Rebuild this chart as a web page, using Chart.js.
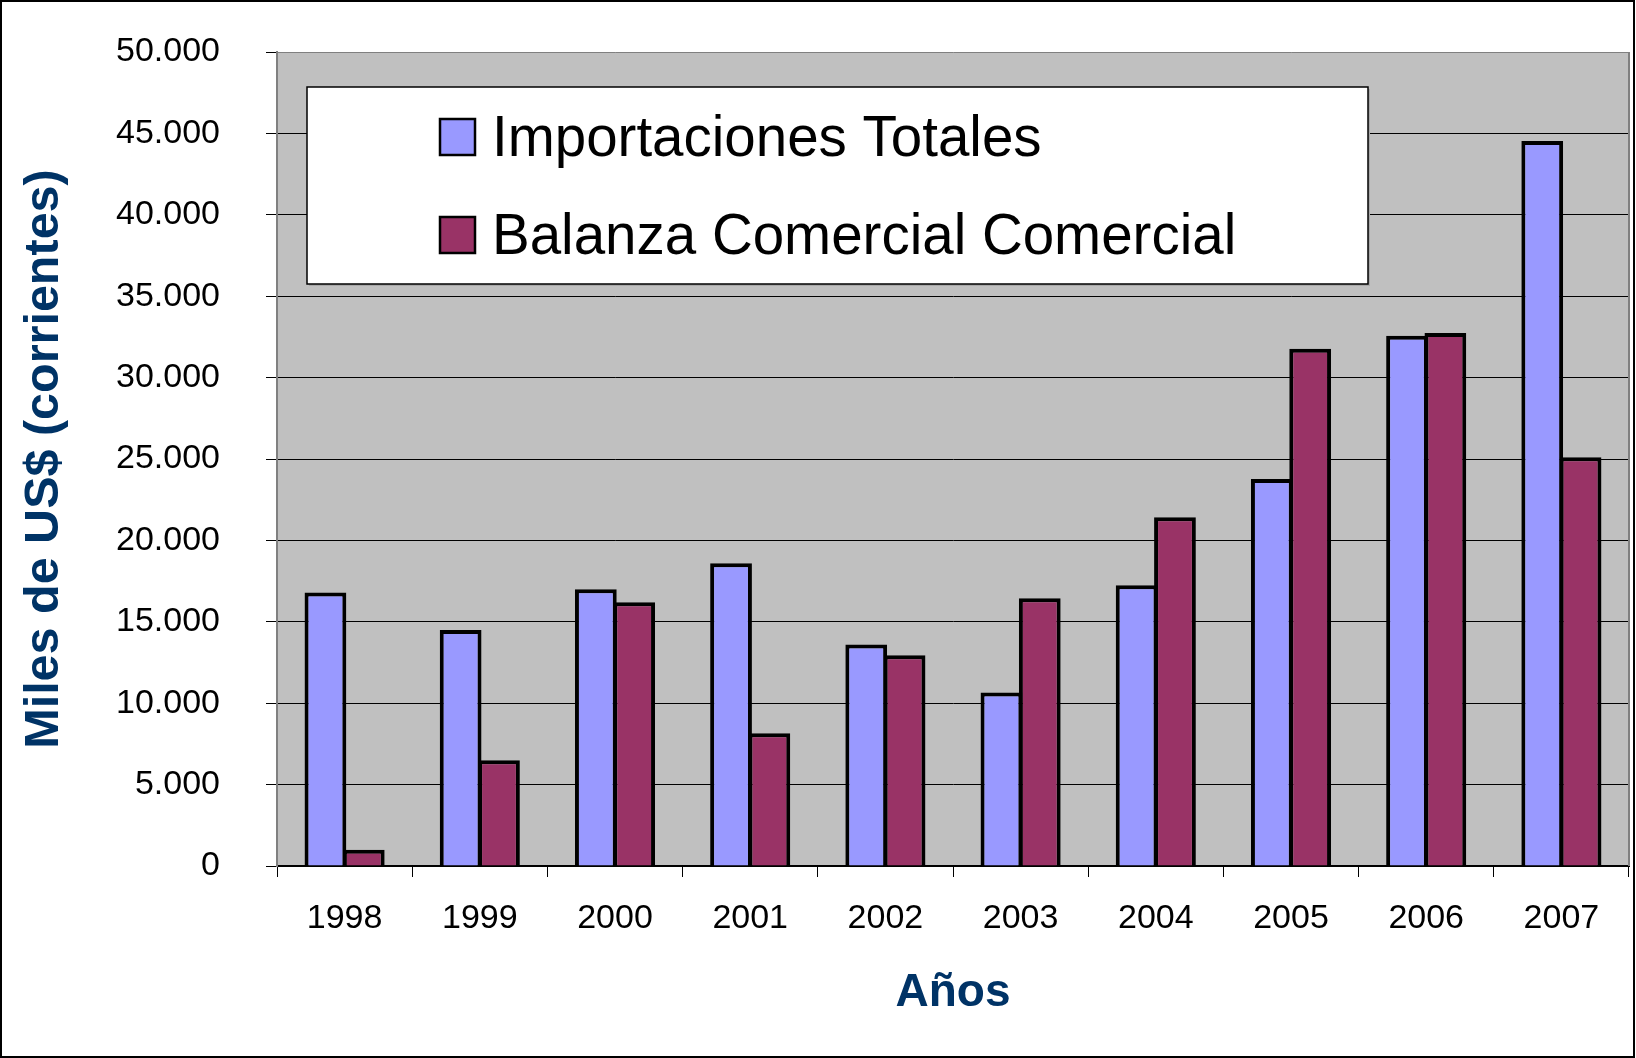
<!DOCTYPE html>
<html>
<head>
<meta charset="utf-8">
<script src="https://cdn.jsdelivr.net/npm/chart.js@4.4.1/dist/chart.umd.min.js"></script>
<style>
  html, body { margin: 0; padding: 0; background: #fff; }
  #wrap { width: 1636px; height: 1058px; }
</style>
</head>
<body>
<div id="wrap"><canvas id="chart" width="1636" height="1058"></canvas></div>
<script>
const years = ['1998', '1999', '2000', '2001', '2002', '2003', '2004', '2005', '2006', '2007'];
const importaciones = [16800, 14500, 17000, 18600, 13600, 10650, 17250, 23770, 32570, 44540];
const balanza = [1000, 6500, 16200, 8150, 12950, 16450, 21420, 31770, 32740, 25110];
const seriesNames = ['Importaciones Totales', 'Balanza Comercial Comercial'];
const seriesColors = ['#9999FF', '#993366'];

const FONT = "'Liberation Sans', Arial, sans-serif";
const NAVY = '#003366';

function fmt(v) {
    return String(v).replace(/\B(?=(\d{3})+(?!\d))/g, '.');
}

// grey plot area, right border and page frame
const plotBg = {
    id: 'plotBg',
    beforeDraw(chart) {
        const { ctx, chartArea: a } = chart;
        ctx.save();
        ctx.fillStyle = '#C0C0C0';
        ctx.fillRect(a.left, a.top, a.right - a.left, a.bottom - a.top);
        ctx.restore();
    },
    afterDraw(chart) {
        const { ctx, chartArea: a } = chart;
        ctx.save();
        ctx.strokeStyle = '#808080';
        ctx.lineWidth = 2;
        ctx.beginPath();
        ctx.moveTo(a.right, a.top);
        ctx.lineTo(a.right, a.bottom);
        ctx.stroke();
        ctx.strokeStyle = '#000';
        ctx.lineWidth = 2;
        ctx.strokeRect(1, 1, chart.width - 3, chart.height - 2);
        ctx.restore();
    }
};

// boxed legend inside the plot
const boxLegend = {
    id: 'boxLegend',
    afterDatasetsDraw(chart) {
        const ctx = chart.ctx;
        const x = 307, y = 87, w = 1061, h = 197;
        ctx.save();
        ctx.fillStyle = '#A8A8A8';
        ctx.fillRect(x + 2, y + 2, w, h);
        ctx.fillStyle = '#fff';
        ctx.fillRect(x, y, w, h);
        ctx.strokeStyle = '#000';
        ctx.lineWidth = 1.5;
        ctx.strokeRect(x, y, w, h);
        ctx.font = '56.5px ' + FONT;
        ctx.textBaseline = 'alphabetic';
        const baselines = [156, 254];
        chart.data.datasets.forEach((ds, i) => {
            const b = baselines[i];
            ctx.fillStyle = ds.backgroundColor;
            ctx.fillRect(440, b - 37, 35, 36);
            ctx.strokeStyle = '#000';
            ctx.lineWidth = 2.5;
            ctx.strokeRect(440, b - 37, 35, 36);
            ctx.fillStyle = '#000';
            ctx.fillText(ds.label, 492, b);
        });
        ctx.restore();
    }
};

new Chart(document.getElementById('chart'), {
    type: 'bar',
    data: {
        labels: years,
        datasets: [
            { label: seriesNames[0], data: importaciones, backgroundColor: seriesColors[0] },
            { label: seriesNames[1], data: balanza, backgroundColor: seriesColors[1] }
        ]
    },
    options: {
        responsive: false,
        animation: false,
        devicePixelRatio: 1,
        layout: { padding: { top: 52, right: 7, left: 0, bottom: 0 } },
        datasets: {
            bar: {
                borderColor: '#000',
                borderWidth: 4,
                categoryPercentage: 0.567,
                barPercentage: 1.09
            }
        },
        plugins: {
            legend: { display: false },
            tooltip: { enabled: false }
        },
        scales: {
            x: {
                afterFit(scale) { scale.height = 192; },
                grid: {
                    drawOnChartArea: false,
                    drawTicks: true,
                    tickLength: 11,
                    color: '#000',
                    offset: true
                },
                border: { color: '#000', width: 2 },
                ticks: {
                    color: '#000',
                    padding: 21,
                    font: { family: FONT, size: 34 }
                },
                title: {
                    display: true,
                    text: 'Años',
                    color: NAVY,
                    padding: { top: 0, bottom: 37 },
                    font: { family: FONT, size: 46, weight: 'bold' }
                }
            },
            y: {
                min: 0,
                max: 50000,
                afterFit(scale) {
                    scale.width = 277;
                    scale.paddingTop = 0;
                    scale.paddingBottom = 0;
                },
                grid: {
                    color: ctx => (ctx.tick && ctx.tick.value === 50000) ? '#808080' : '#000',
                    tickColor: '#000',
                    tickLength: 11,
                    lineWidth: 1
                },
                border: { color: '#808080', width: 2 },
                ticks: {
                    stepSize: 5000,
                    color: '#000',
                    padding: 46,
                    font: { family: FONT, size: 34 },
                    callback: v => fmt(v)
                },
                title: {
                    display: true,
                    text: 'Miles de US$ (corrientes)',
                    color: NAVY,
                    padding: { top: 16, bottom: 0 },
                    font: { family: FONT, size: 48.5, weight: 'bold' }
                }
            }
        }
    },
    plugins: [plotBg, boxLegend]
});
</script>
</body>
</html>
